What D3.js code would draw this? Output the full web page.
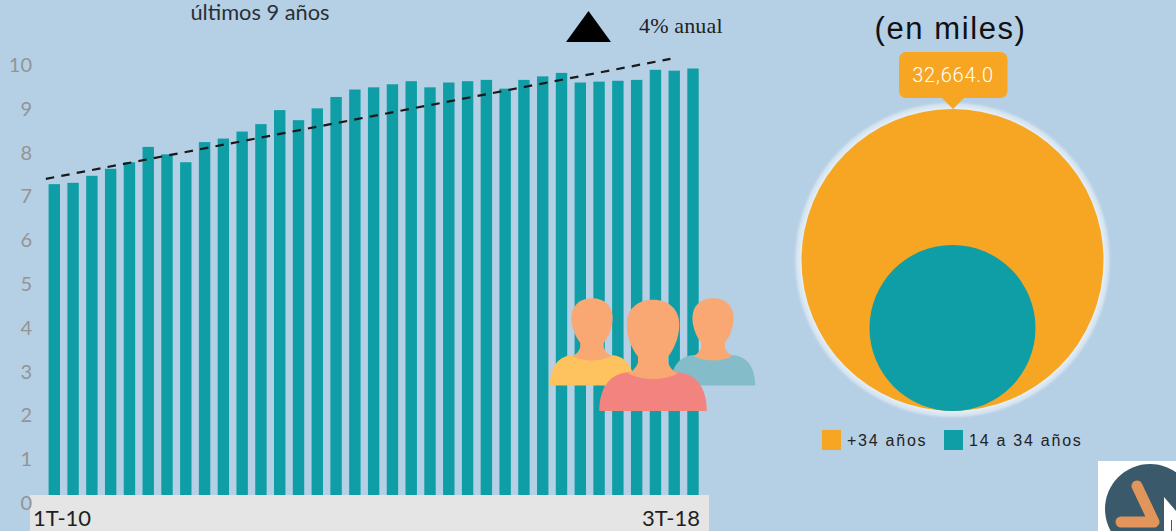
<!DOCTYPE html>
<html><head><meta charset="utf-8">
<script src="https://cdnjs.cloudflare.com/ajax/libs/d3/7.8.5/d3.min.js"></script>
<style>html,body{margin:0;padding:0;background:#b5cfe5;overflow:hidden}svg{display:block}</style>
</head><body><svg id="c" width="1176" height="531"></svg>
<script>
const quarters = [];
["10","11","12","13","14","15","16","17","18"].forEach(y=>[1,2,3,4].forEach(q=>quarters.push(q+"T-"+y)));
const categories = quarters.slice(0,35);
const workers = [7.28,7.31,7.47,7.63,7.78,8.13,7.96,7.78,8.24,8.32,8.48,8.65,8.97,8.74,9.01,9.27,9.44,9.49,9.56,9.63,9.49,9.60,9.63,9.66,9.46,9.66,9.74,9.82,9.60,9.62,9.64,9.66,9.89,9.87,9.92];
const yTicks = [0,1,2,3,4,5,6,7,8,9,10];
const trendIndex = [-0.45,32.8];
const trendValues = [7.40,10.14];
const ageGroups = ["+34 años","14 a 34 años"];
const ageValues = [32664,9870];
const ageColors = ["#f6a623","#0f9ea6"];
const calloutText = "32,664.0";

const svg = d3.select("#c");
const x = d3.scaleLinear().domain([0,34]).range([54.3,693]);
const y = d3.scaleLinear().domain([0,10]).range([503,65]);
const barW = 11.4;

svg.append("g").selectAll("rect").data(workers).join("rect")
  .attr("x",(d,i)=>x(i)-barW/2).attr("width",barW)
  .attr("y",d=>y(d)).attr("height",d=>y(0)-y(d))
  .attr("fill","#0f9ea6");

svg.append("rect").attr("x",30).attr("y",495).attr("width",679).attr("height",36).attr("fill","#e5e5e5");

svg.append("g").selectAll("text").data(yTicks).join("text")
  .attr("x",32).attr("text-anchor","end").attr("y",d=>y(d)+7)
  .attr("font-family","Lato").attr("font-size",20).attr("fill","#949494").text(d=>d);

const line = d3.line().x(d=>x(d[0])).y(d=>y(d[1]));
svg.append("path").datum(d3.zip(trendIndex,trendValues)).attr("d",line)
  .attr("fill","none").attr("stroke","#1a1a1a").attr("stroke-width",2.2).attr("stroke-dasharray","8.5 7.2");

svg.append("text").attr("x",33).attr("y",526).attr("font-family","Lato").attr("font-size",22).attr("fill","#1f1f1f").text(categories[0]);
svg.append("text").attr("x",700).attr("y",526).attr("text-anchor","end").attr("font-family","Lato").attr("font-size",22).attr("fill","#1f1f1f").text(categories[categories.length-1]);

svg.append("text").attr("x",260).attr("y",20).attr("text-anchor","middle").attr("font-family","Lato").attr("font-size",21.8).attr("fill","#2a2f36").text("últimos 9 años");

svg.append("path").attr("d","M566 42L588.5 11L611 42Z").attr("fill","#000");
svg.append("text").attr("x",639).attr("y",33).attr("font-family","Liberation Serif").attr("font-size",22).attr("letter-spacing",0.15).attr("fill","#222").text("4% anual");

// people icons
function person(g,tx,ty,s,shirt){
  const p=g.append("g").attr("transform",`translate(${tx},${ty}) scale(${s})`);
  p.append("path").attr("fill",shirt).attr("d","M-43 31C-43 12 -34 0 -18 0L18 0C34 0 43 12 43 31Z");
  p.append("path").attr("fill","#f9a873").attr("d","M-12 -16L-12 -8C-13 -4 -16 -1 -20 1C-8 7 8 7 20 1C16 -1 13 -4 12 -8L12 -16Z");
  p.append("path").attr("fill","#f9a873").attr("d","M0 -58C-13 -58 -21 -50 -21 -38C-21 -24 -12 -6 0 -6C12 -6 21 -24 21 -38C21 -50 13 -58 0 -58Z");
}
const icons = svg.append("g");
person(icons,592,355,0.98,"#fec25f");
person(icons,713,355,0.98,"#84bdc9");
person(icons,653,372.2,1.25,"#f3837e");

// circles
const r = d3.scaleSqrt().domain([0,ageValues[0]]).range([0,151]);
const cx=952.5, cyOuter=260;
const rg = svg.append("defs").append("radialGradient").attr("id","halo");
[[0.94,"#e8f1f8",1],[0.975,"#d5e4f0",0.9],[1,"#b5cfe5",0]].forEach(s=>rg.append("stop").attr("offset",s[0]).attr("stop-color",s[1]).attr("stop-opacity",s[2]));
svg.append("circle").attr("cx",cx).attr("cy",cyOuter).attr("r",160).attr("fill","url(#halo)");
svg.append("circle").attr("cx",cx).attr("cy",cyOuter).attr("r",r(ageValues[0])).attr("fill",ageColors[0]);
svg.append("circle").attr("cx",cx).attr("cy",cyOuter+r(ageValues[0])-r(ageValues[1])).attr("r",r(ageValues[1])).attr("fill",ageColors[1]);

// callout
svg.append("path").attr("fill",ageColors[0]).attr("d","M906 52H1000.5A7 7 0 0 1 1007.5 59V91A7 7 0 0 1 1000.5 98H964L953 109L942 98H906A7 7 0 0 1 899 91V59A7 7 0 0 1 906 52Z");
svg.append("text").attr("x",953).attr("y",82).attr("text-anchor","middle").attr("font-family","Roboto").attr("font-size",20).attr("font-weight",300).attr("letter-spacing",0.8).attr("fill","#fff").text(calloutText);

svg.append("text").attr("x",950.5).attr("y",39).attr("text-anchor","middle").attr("font-family","Liberation Sans").attr("font-size",31).attr("letter-spacing",1.6).attr("fill","#111").text("(en miles)");

// legend
const legX=[822,944];
const leg = svg.append("g").selectAll("g").data(ageGroups).join("g").attr("transform",(d,i)=>`translate(${legX[i]},430)`);
leg.append("rect").attr("width",19).attr("height",20).attr("fill",(d,i)=>ageColors[i]);
leg.append("text").attr("x",25).attr("y",16).attr("font-family","Liberation Sans").attr("font-size",16).attr("letter-spacing",1.75).attr("fill","#222").text(d=>d);

// logo
const logo = svg.append("g");
logo.append("rect").attr("x",1098).attr("y",461).attr("width",78).attr("height",70).attr("fill","#fff");
logo.append("circle").attr("cx",1150).attr("cy",509).attr("r",45).attr("fill","#3a5a6c");
logo.append("path").attr("d","M1137 486L1154 522L1121 522").attr("fill","none").attr("stroke","#e2955a").attr("stroke-width",11).attr("stroke-linecap","round").attr("stroke-linejoin","round");
logo.append("path").attr("d","M1164 531V497L1176 511V531H1172V520L1171 520V531Z").attr("fill","#fff");
</script></body></html>
